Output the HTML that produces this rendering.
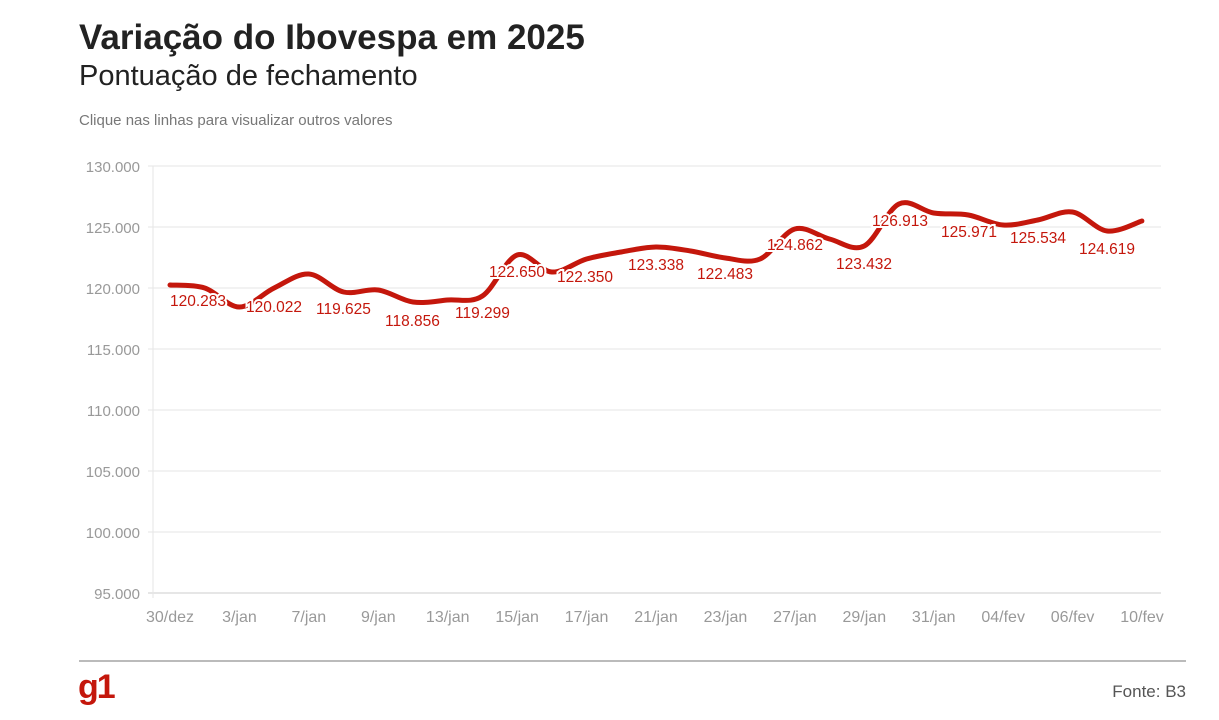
<!DOCTYPE html>
<html><head><meta charset="utf-8"><style>
body{margin:0;width:1219px;height:720px;background:#fff;font-family:"Liberation Sans",sans-serif;overflow:hidden;position:relative}
.t{position:absolute;left:79px;top:18px;font-size:35px;font-weight:bold;color:#222}
.s{position:absolute;left:79px;top:60px;font-size:29px;color:#222}
.n{position:absolute;left:79px;top:112px;font-size:15px;color:#777}
.r{position:absolute;left:79px;top:660px;width:1107px;height:2px;background:#bbb}
.g{position:absolute;left:78px;top:668px;font-size:34px;font-weight:bold;color:#c4170c;letter-spacing:-2px}
.f{position:absolute;right:33px;top:682px;font-size:17px;color:#555}
svg{position:absolute;left:0;top:0}
</style></head><body>
<div class="t">Variação do Ibovespa em 2025</div>
<div class="s">Pontuação de fechamento</div>
<div class="n">Clique nas linhas para visualizar outros valores</div>
<svg width="1219" height="720" id="c" font-family="Liberation Sans, sans-serif"></svg>
<div class="r"></div>
<div class="g">g1</div>
<div class="f">Fonte: B3</div>
<script>
var s='',svg=document.getElementById('c');
var yl=['130.000','125.000','120.000','115.000','110.000','105.000','100.000','95.000'];
for(var i=0;i<8;i++){var y=166+i*61;s+='<line x1="148" x2="1161" y1="'+y+'" y2="'+y+'" stroke="'+(i==7?'#ccc':'#e6e6e6')+'" stroke-width="1"/>';
s+='<text x="140" y="'+(y+6)+'" text-anchor="end" font-size="15" fill="#999">'+yl[i]+'</text>';}
s+='<line x1="153" x2="153" y1="166" y2="598" stroke="#e6e6e6"/>';
var xl=['30/dez','3/jan','7/jan','9/jan','13/jan','15/jan','17/jan','21/jan','23/jan','27/jan','29/jan','31/jan','04/fev','06/fev','10/fev'];
for(var i=0;i<15;i++){var x=170+i*69.43;s+='<text x="'+x+'" y="622" text-anchor="middle" font-size="16" fill="#999">'+xl[i]+'</text>';}
var ys=[285,288,307,288,274,292,290,302,300,296,255,272,259,252,247,251,258,259,229,239,246,204,213,215,225,220,212,231,221];
var p=ys.map(function(y,i){return [170+i*34.71,y]});
var d='M'+p[0][0]+','+p[0][1];
for(var i=0;i<p.length-1;i++){var p0=p[i-1]||p[i],p1=p[i],p2=p[i+1],p3=p[i+2]||p2,k=6;
d+=' C'+(p1[0]+(p2[0]-p0[0])/k)+','+(p1[1]+(p2[1]-p0[1])/k)+' '+(p2[0]-(p3[0]-p1[0])/k)+','+(p2[1]-(p3[1]-p1[1])/k)+' '+p2[0]+','+p2[1];}
s+='<path d="'+d+'" fill="none" stroke="#c4170c" stroke-width="5" stroke-linejoin="round" stroke-linecap="round"/>';
var L=[['120.283',170,306],['120.022',246,312],['119.625',316,314],['118.856',385,326],['119.299',455,318],['122.650',489,277],['122.350',557,282],['123.338',628,270],['122.483',697,279],['124.862',767,250],['123.432',836,269],['126.913',872,226],['125.971',941,237],['125.534',1010,243],['124.619',1079,254]];
L.forEach(function(l){s+='<text x="'+l[1]+'" y="'+l[2]+'" font-size="15.5" fill="#c4170c" stroke="#fff" stroke-width="4" paint-order="stroke">'+l[0]+'</text>';});
svg.innerHTML=s;
</script>
</body></html>
